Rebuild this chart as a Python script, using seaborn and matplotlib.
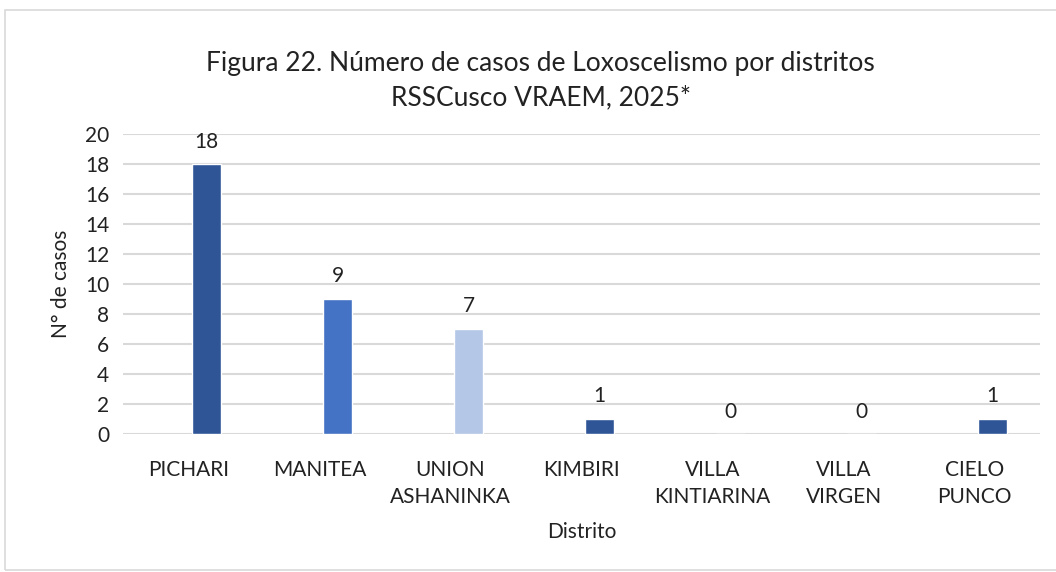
import matplotlib
matplotlib.use("Agg")
import matplotlib.pyplot as plt
import seaborn as sns
from matplotlib.patches import Rectangle

distritos = ["PICHARI", "MANITEA", "UNION\nASHANINKA", "KIMBIRI",
             "VILLA\nKINTIARINA", "VILLA\nVIRGEN", "CIELO\nPUNCO"]
casos = [18, 9, 7, 1, 0, 0, 1]
colores = ["#2F5597", "#4472C4", "#B4C7E7", "#2F5597", "#2F5597", "#2F5597", "#2F5597"]

sns.set_style("white")
plt.rcParams["font.family"] = ["Lato", "DejaVu Sans"]

fig = plt.figure(figsize=(10.56, 5.72), dpi=100)
ax = fig.add_axes([123/1056, 1-434/572, (1040-123)/1056, 300/572])

sns.barplot(x=distritos, y=casos, hue=distritos, palette=colores, width=0.22,
            legend=False, ax=ax, saturation=1)
for p in ax.patches:
    p.set_x(p.get_x() + 0.137)
for c in ax.containers:
    ax.bar_label(c, fontsize=15, padding=9, color="#222222")

ax.set_ylim(0, 20)
ax.set_xlim(-0.5, 6.5)
ax.set_yticks(range(0, 21, 2))
ax.yaxis.grid(True, color="#d9d9d9", lw=1.5)
ax.set_axisbelow(True)
sns.despine(ax=ax, left=True, bottom=True)
ax.tick_params(axis="both", length=0, labelsize=15, colors="#222222")
ax.tick_params(axis="x", pad=19)
ax.tick_params(axis="y", pad=10)
for t in ax.get_xticklabels():
    t.set_linespacing(1.4)
ax.set_ylabel("N° de casos", fontsize=15, color="#222222", labelpad=10)
ax.set_xlabel("Distrito", fontsize=15, color="#222222", labelpad=11)

fig.text(540/1056, 1-63/572, "Figura 22. Número de casos de Loxoscelismo por distritos",
         ha="center", va="center", fontsize=19, color="#222222")
fig.text(541/1056, 1-98/572, "RSSCusco VRAEM, 2025*",
         ha="center", va="center", fontsize=19, color="#222222")

fig.patches.append(Rectangle((5/1056, 2/572), 1.1, 1-12/572, transform=fig.transFigure,
                             fill=False, edgecolor="#d9d9d9", lw=1.2))

fig.savefig("out.png", dpi=100)
